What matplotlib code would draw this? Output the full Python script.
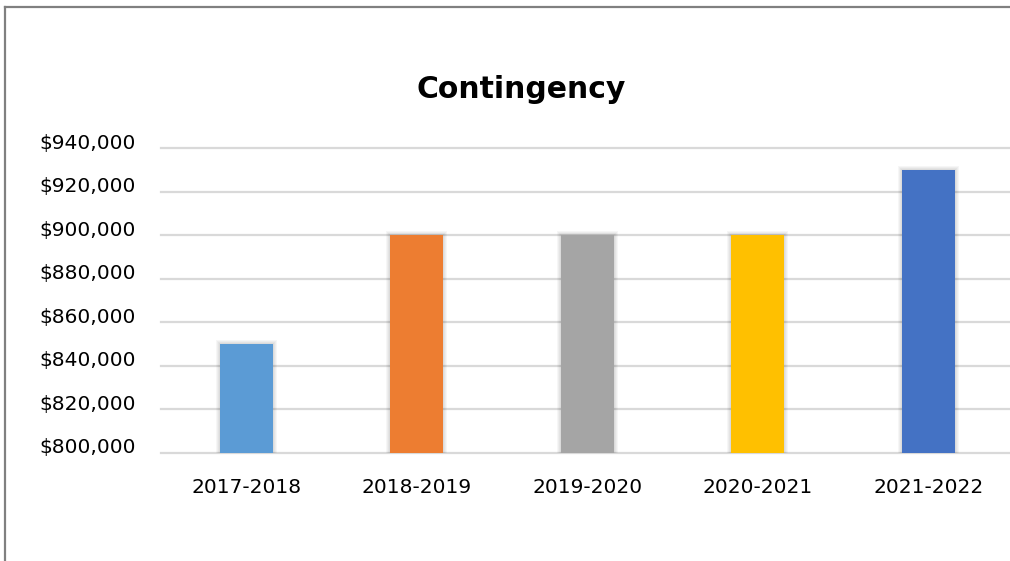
import matplotlib
matplotlib.use("Agg")
import matplotlib.pyplot as plt
from matplotlib.lines import Line2D
from matplotlib.transforms import ScaledTranslation
from matplotlib.ticker import FuncFormatter

categories = ["2017-2018", "2018-2019", "2019-2020", "2020-2021", "2021-2022"]
values = [850000, 900000, 900000, 900000, 930000]
colors = ["#5B9BD5", "#ED7D31", "#A5A5A5", "#FFC000", "#4472C4"]
yticks = [800000, 820000, 840000, 860000, 880000, 900000, 920000, 940000]

W, H = 1010, 561
fig = plt.figure(figsize=(W / 100, H / 100), dpi=100)
fig.patch.set_facecolor("white")

left, right = 161, 1013.5
top, bottom = 148, 453
ax = fig.add_axes([left / W, (H - bottom) / H, (right - left) / W, (bottom - top) / H])
ax.set_facecolor("none")

x = list(range(len(categories)))
bw = 0.31

# soft shadow layers (n pixels wide halo)
ypx = 140000 / (bottom - top)
xpx = 1 / 170.5
for n in [4, 3, 2, 1]:
    ax.bar(x, [v - 800000 + n * ypx for v in values], bottom=800000,
           width=bw + 2 * n * xpx, color="#000000", alpha=0.035, linewidth=0, zorder=2)
ax.bar(x, [v - 800000 for v in values], bottom=800000, width=bw, color=colors,
       linewidth=0, zorder=3)

ax.set_xlim(-0.5, len(categories) - 0.5)
ax.set_ylim(800000, 940000)
ax.set_yticks(yticks)
ax.yaxis.set_major_formatter(FuncFormatter(lambda v, p: "${:,.0f}".format(v)))
ax.set_xticks(x)
ax.set_xticklabels(categories)

ax.grid(axis="y", color="#D9D9D9", linewidth=1.6, zorder=0)
ax.set_axisbelow(True)
for gl in ax.get_ygridlines():
    gl.set_clip_on(False)
for s in ax.spines.values():
    s.set_visible(False)
ax.tick_params(axis="both", length=0, labelsize=14.5, labelcolor="#000000")
ax.tick_params(axis="y", pad=18)
ax.tick_params(axis="x", pad=18)
for lab in ax.get_yticklabels():
    lab.set_transform(lab.get_transform() + ScaledTranslation(0, 7 / 100, fig.dpi_scale_trans))

fig.text(521 / W, (H - 89) / H, "Contingency", ha="center", va="center",
         fontsize=21.5, fontweight="bold", family="DejaVu Sans")

# outer chart border (left and top visible)
fig.add_artist(Line2D([5 / W, 5 / W], [0, (H - 7) / H], transform=fig.transFigure,
                      color="#808080", linewidth=1.6))
fig.add_artist(Line2D([5 / W, 1], [(H - 7) / H, (H - 7) / H], transform=fig.transFigure,
                      color="#808080", linewidth=1.6))

fig.savefig("out.png", dpi=100, facecolor="white")
